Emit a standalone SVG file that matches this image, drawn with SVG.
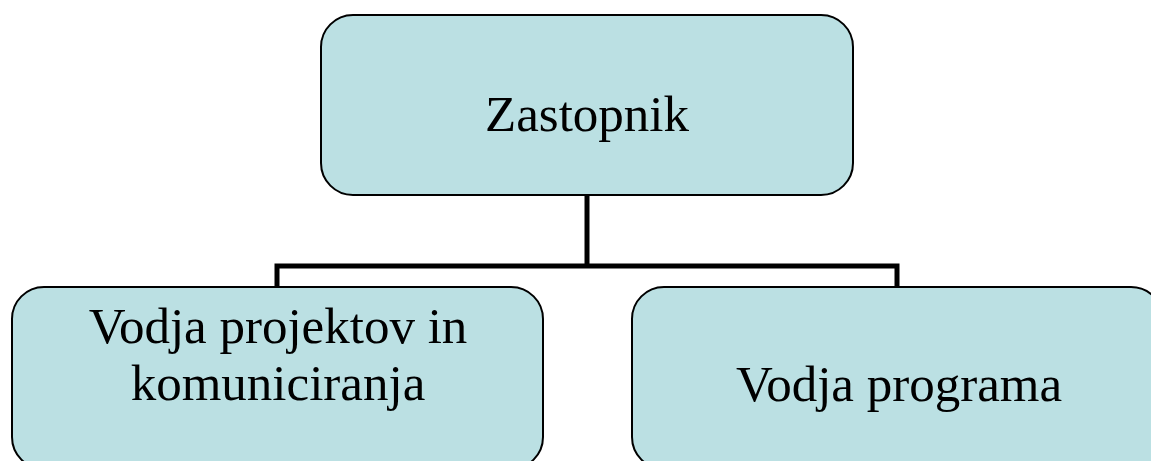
<svg xmlns="http://www.w3.org/2000/svg" width="1151" height="461" viewBox="0 0 1151 461">
  <style>
    .box { fill: #bbe0e3; stroke: #000; stroke-width: 2; }
    .label { font-family: "Liberation Serif", "Times New Roman", serif; font-size: 51px; fill: #000; text-anchor: middle; }
    .link { fill: none; stroke: #000; stroke-width: 5; stroke-linejoin: miter; }
  </style>
  <rect width="1151" height="461" fill="#fff"/>
  <g id="connectors">
    <path class="link" d="M587 195 V266"/>
    <path class="link" d="M277 287 V266 H897 V287"/>
  </g>
  <g id="zastopnik">
    <rect class="box" x="321" y="15" width="532" height="180" rx="32" ry="32"/>
    <text class="label" x="587" y="131">Zastopnik</text>
  </g>
  <g id="vodja-projektov">
    <rect class="box" x="12" y="287" width="531" height="182" rx="32" ry="32"/>
    <text class="label" x="278" y="343">Vodja projektov in</text>
    <text class="label" x="278" y="400">komuniciranja</text>
  </g>
  <g id="vodja-programa">
    <rect class="box" x="632" y="287" width="531" height="182" rx="32" ry="32"/>
    <text class="label" x="899" y="401">Vodja programa</text>
  </g>
</svg>
